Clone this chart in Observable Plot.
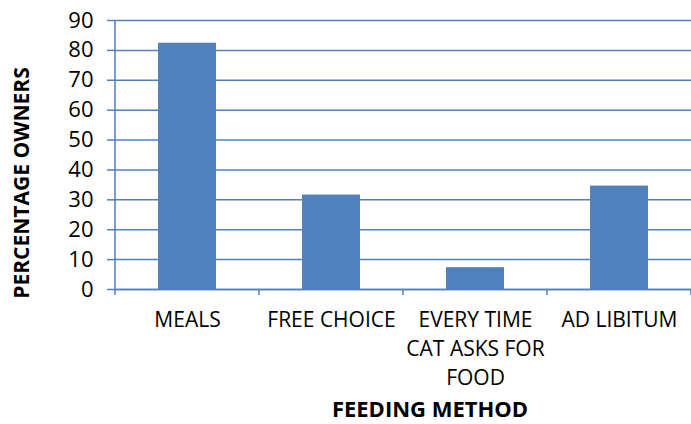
<!DOCTYPE html>
<html>
<head>
<meta charset="utf-8">
<script src="https://cdn.jsdelivr.net/npm/d3@7"></script>
<script src="https://cdn.jsdelivr.net/npm/@observablehq/plot@0.6"></script>
<style>
  html, body { margin: 0; padding: 0; background: #fff; }
  #chart svg { display: block; }
</style>
</head>
<body>
<div id="chart"></div>
<script>
const categories = ["MEALS", "FREE CHOICE", "EVERY TIME\nCAT ASKS FOR\nFOOD", "AD LIBITUM"];
const values = [82.4, 31.6, 7.3, 34.6];
const yTicks = [0, 10, 20, 30, 40, 50, 60, 70, 80, 90];
const yLabel = "PERCENTAGE OWNERS";
const xLabel = "FEEDING METHOD";

const data = categories.map((c, i) => ({category: c, value: values[i]}));
const blue = "#4F81BD";
const font = "Open Sans, Noto Sans, sans-serif";

// left axis line and boundary ticks between category bands, drawn from the scales
const axisFrame = (index, scales, values, dimensions) => {
  const g = d3.create("svg:g");
  const x = scales.x;
  const bw = x.bandwidth ? x.bandwidth() : 0;
  const y0 = scales.y(0);
  const yTop = scales.y(90);
  const edges = categories.map(c => x(c)).concat([x(categories[categories.length - 1]) + bw]);
  g.append("line").attr("x1", edges[0]).attr("x2", edges[0]).attr("y1", yTop).attr("y2", y0)
    .attr("stroke", blue).attr("stroke-width", 1.5);
  for (const e of edges) {
    g.append("line").attr("x1", e).attr("x2", e).attr("y1", y0).attr("y2", y0 + 6)
      .attr("stroke", blue).attr("stroke-width", 1.5);
  }
  return g.node();
};

const plot = Plot.plot({
  width: 691,
  height: 424,
  marginLeft: 114,
  marginRight: 0,
  marginTop: 20,
  marginBottom: 135,
  style: {fontFamily: font, fontSize: "18px", color: "#000", background: "#fff"},
  x: {domain: categories, padding: 0, label: null},
  y: {domain: [0, 90], label: null},
  marks: [
    Plot.gridY(yTicks, {stroke: blue, strokeOpacity: 1, strokeWidth: 1.5}),
    Plot.axisY(yTicks, {tickSize: 7, tickPadding: 14, stroke: blue, strokeWidth: 1.5, fontSize: 22, label: null}),
    Plot.barY(data, {x: "category", y: "value", fill: blue, insetLeft: 43, insetRight: 43}),
    Plot.ruleY([0], {stroke: blue, strokeWidth: 1.5}),
    axisFrame,
    Plot.axisX({tickSize: 0, tickPadding: 17, fontSize: 21, lineHeight: 1.38, label: null}),
    Plot.text([yLabel], {frameAnchor: "left", textAnchor: "middle", rotate: -90, dx: -92, dy: 28, fontWeight: "bold", fontSize: 21, fill: "#000"}),
    Plot.text([xLabel], {frameAnchor: "bottom", dx: 27, dy: 127, fontWeight: "bold", fontSize: 22, fill: "#000"})
  ]
});
document.getElementById("chart").appendChild(plot);
</script>
</body>
</html>
